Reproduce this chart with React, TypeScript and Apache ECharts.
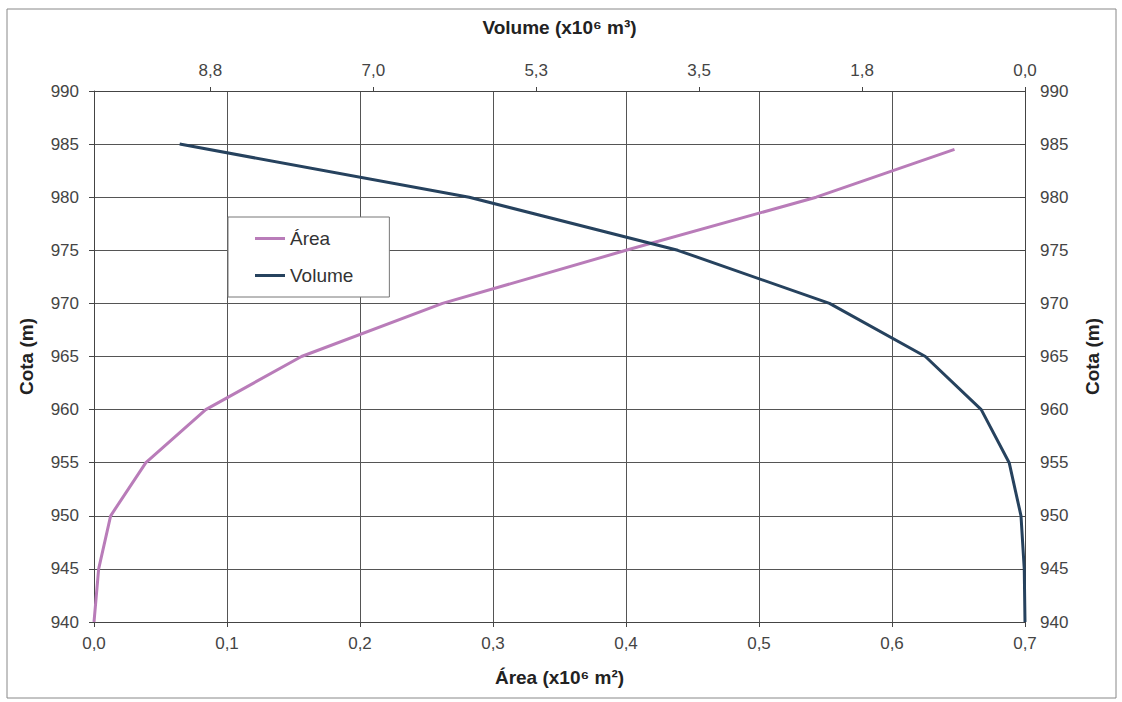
import React, { useEffect, useRef } from "react";
import * as echarts from "echarts";

const cota = [940, 945, 950, 955, 960, 965, 970, 975, 980, 985];
const areaCota = [940, 945, 950, 955, 960, 965, 970, 975, 980, 984.5];
const areaValues = [0.0, 0.0035, 0.0125, 0.039, 0.084, 0.156, 0.262, 0.4, 0.543, 0.647];
const volumeValues = [0.0, 0.008, 0.043, 0.17, 0.47, 1.07, 2.1, 3.73, 5.97, 9.08];

const FONT = "Liberation Sans, Arial, sans-serif";
const fmt = (v: number) => v.toFixed(1).replace(".", ",");

export default function App() {
  const ref = useRef<HTMLDivElement>(null);
  useEffect(() => {
    const chart = echarts.init(ref.current!, undefined, { renderer: "svg" });
    const tickLabel = { color: "#444", fontSize: 17, fontFamily: FONT };
    const nameStyle = { color: "#222", fontSize: 19, fontWeight: "bold" as const, fontFamily: FONT };
    chart.setOption({
      animation: false,
      backgroundColor: "#fff",
      grid: { left: 94, right: 97, top: 91, bottom: 80 },
      legend: {
        left: 228,
        top: 217,
        orient: "vertical",
        backgroundColor: "#fff",
        borderColor: "#777",
        borderWidth: 1,
        borderRadius: 0,
        padding: [12, 36, 12, 27],
        itemGap: 18,
        itemWidth: 30,
        itemHeight: 16,
        icon: "path://M0,7 L30,7 L30,10 L0,10 Z",
        textStyle: { color: "#333", fontSize: 19, fontFamily: FONT },
        data: ["Área", "Volume"],
      },
      xAxis: [
        {
          type: "value",
          position: "bottom",
          min: 0,
          max: 0.7,
          interval: 0.1,
          name: "Área (x10⁶ m²)",
          nameLocation: "middle",
          nameGap: 46,
          nameTextStyle: nameStyle,
          axisLine: { show: true, lineStyle: { color: "#444" } },
          axisTick: { show: true, length: 5, lineStyle: { color: "#444" } },
          axisLabel: { ...tickLabel, margin: 13, formatter: (v: number) => fmt(v) },
          splitLine: { show: true, lineStyle: { color: "#555", width: 1 } },
        },
        {
          type: "value",
          position: "top",
          inverse: true,
          min: 0,
          max: 10,
          interval: 1.75,
          name: "Volume (x10⁶ m³)",
          nameLocation: "middle",
          nameGap: 54,
          nameTextStyle: nameStyle,
          axisLine: { show: true, lineStyle: { color: "#444" } },
          axisTick: { show: true, length: 4, lineStyle: { color: "#444" } },
          axisLabel: {
            ...tickLabel,
            margin: 12,
            showMaxLabel: false,
            formatter: (v: number) => (v > 9.9 ? "" : fmt(v)),
          },
          splitLine: { show: false },
        },
      ],
      yAxis: [
        {
          type: "value",
          position: "left",
          min: 940,
          max: 990,
          interval: 5,
          name: "Cota (m)",
          nameLocation: "middle",
          nameGap: 58,
          nameRotate: 90,
          nameTextStyle: nameStyle,
          axisLine: { show: true, lineStyle: { color: "#444" } },
          axisTick: { show: true, length: 5, lineStyle: { color: "#444" } },
          axisLabel: { ...tickLabel, margin: 15 },
          splitLine: { show: true, lineStyle: { color: "#555", width: 1 } },
        },
        {
          type: "value",
          position: "right",
          min: 940,
          max: 990,
          interval: 5,
          name: "Cota (m)",
          nameLocation: "middle",
          nameGap: 58,
          nameRotate: 90,
          nameTextStyle: nameStyle,
          axisLine: { show: true, lineStyle: { color: "#444" } },
          axisTick: { show: true, inside: true, length: 5, lineStyle: { color: "#444" } },
          axisLabel: { ...tickLabel, margin: 15 },
          splitLine: { show: false },
        },
      ],
      graphic: [
        {
          type: "rect",
          shape: { x: 7, y: 9, width: 1109, height: 689 },
          style: { fill: "none", stroke: "#888", lineWidth: 1 },
          z: -1,
        },
      ],
      series: [
        {
          name: "Área",
          type: "line",
          xAxisIndex: 0,
          yAxisIndex: 0,
          symbol: "none",
          lineStyle: { color: "#b97cb9", width: 3 },
          itemStyle: { color: "#b97cb9" },
          data: areaValues.map((v, i) => [v, areaCota[i]]),
        },
        {
          name: "Volume",
          type: "line",
          xAxisIndex: 1,
          yAxisIndex: 1,
          symbol: "none",
          lineStyle: { color: "#26425e", width: 3 },
          itemStyle: { color: "#26425e" },
          data: volumeValues.map((v, i) => [v, cota[i]]),
        },
      ],
    });
    return () => chart.dispose();
  }, []);
  return (
    <div
      ref={ref}
      style={{ position: "fixed", left: 0, top: 0, width: 1122, height: 702 }}
    />
  );
}
